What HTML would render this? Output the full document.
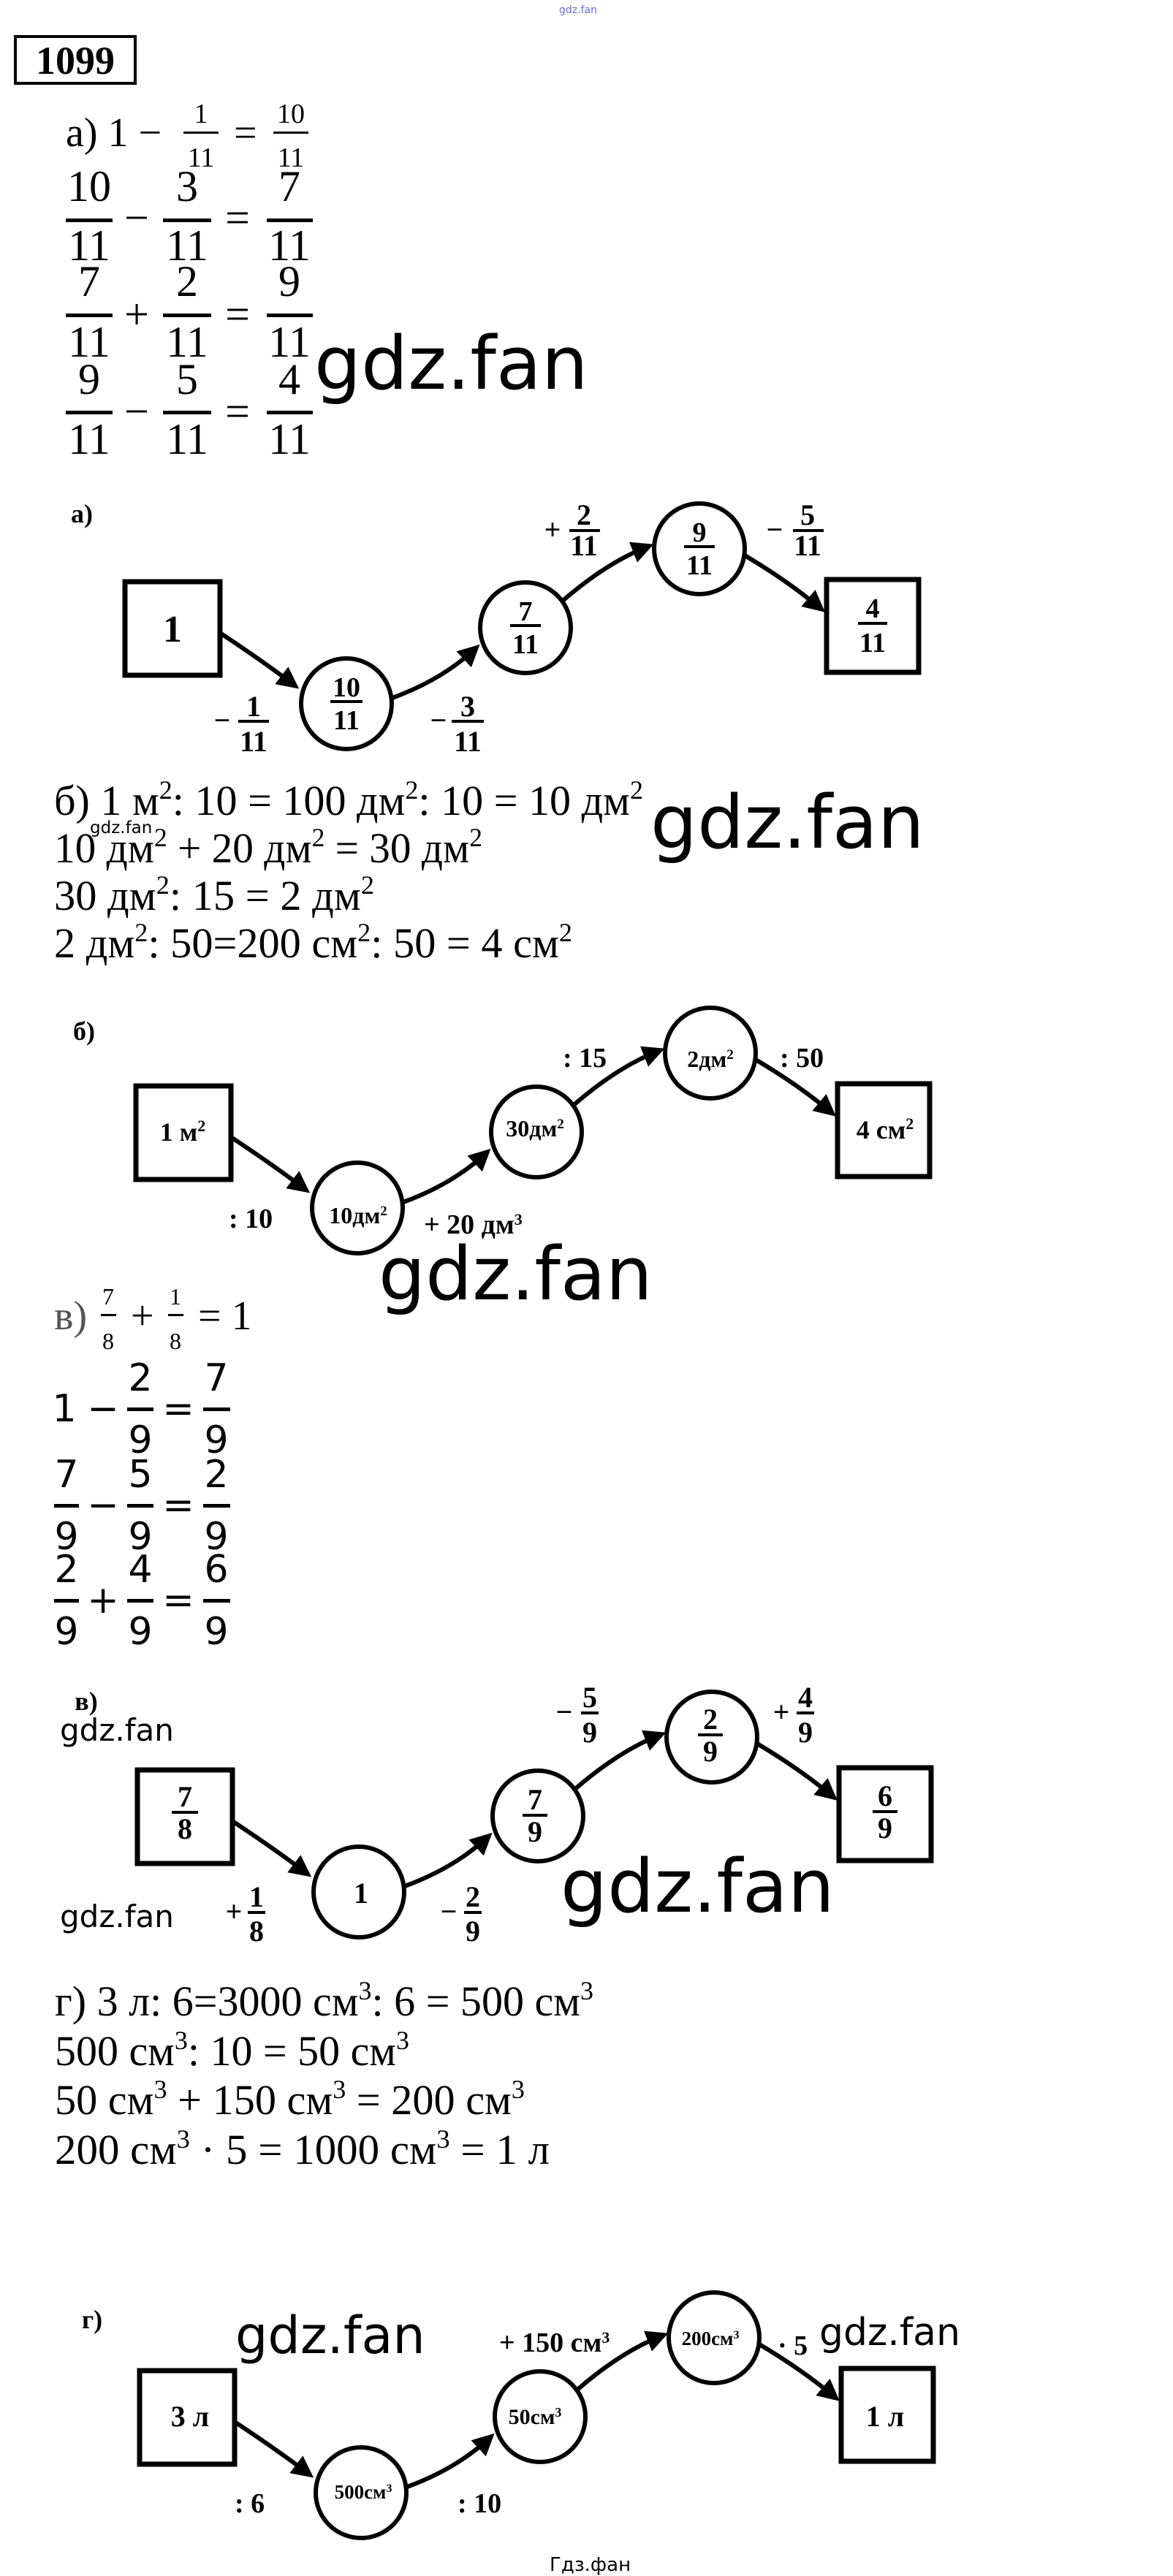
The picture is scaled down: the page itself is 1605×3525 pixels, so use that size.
<!DOCTYPE html>
<html><head><meta charset="utf-8"><style>
html,body{margin:0;padding:0;background:#fff;}
svg{display:block;}
.s{font-family:"Liberation Serif","DejaVu Serif",serif;}
.d{font-family:"DejaVu Sans","Liberation Sans",sans-serif;}
.b{font-family:"Liberation Serif",serif;font-weight:bold;}
</style></head><body>
<svg width="1605" height="3525" viewBox="0 0 1605 3525" xmlns="http://www.w3.org/2000/svg">
<defs>
<marker id="ah" markerWidth="5" markerHeight="5" refX="3.5" refY="2.5" orient="auto" markerUnits="strokeWidth">
<path d="M0,0 L5,2.5 L0,5 z" fill="#000"/></marker>
<g id="shp" fill="none" stroke="#000">
<rect x="171" y="796" width="130" height="128" stroke-width="7"/>
<circle cx="474" cy="963" r="62" stroke-width="6"/>
<circle cx="719" cy="859" r="62" stroke-width="6"/>
<circle cx="957" cy="751" r="62" stroke-width="6"/>
<rect x="1131" y="793" width="126" height="127" stroke-width="7"/>
<path d="M301,866 Q360,905 402,937" stroke-width="6" marker-end="url(#ah)"/>
<path d="M537,955 Q605,930 650,888" stroke-width="6" marker-end="url(#ah)"/>
<path d="M770,822 Q830,770 886,748" stroke-width="6" marker-end="url(#ah)"/>
<path d="M1019,760 Q1078,795 1122,832" stroke-width="6" marker-end="url(#ah)"/>
</g>
</defs>

<text x="765" y="18" class="d" font-size="14" fill="#6a6adf">gdz.fan</text>

<rect x="21" y="50" width="164" height="64" fill="none" stroke="#000" stroke-width="4"/>
<text x="103" y="101" class="b" font-size="54" text-anchor="middle">1099</text>

<g class="s" fill="#000">
<text x="90" y="200" font-size="56">а) 1 −</text>
<text x="275" y="168" font-size="38" text-anchor="middle">1</text>
<rect x="251" y="180" width="48" height="3"/>
<text x="275" y="228" font-size="38" text-anchor="middle">11</text>
<text x="320" y="200" font-size="56">=</text>
<text x="398" y="168" font-size="38" text-anchor="middle">10</text>
<rect x="374" y="180" width="48" height="3"/>
<text x="398" y="228" font-size="38" text-anchor="middle">11</text>
</g>
<g class="s" font-size="60" text-anchor="middle">
<text x="122" y="275">10</text><rect x="90" y="299" width="64" height="5"/><text x="122" y="356">11</text>
<text x="187" y="318">−</text>
<text x="256" y="275">3</text><rect x="223" y="299" width="66" height="5"/><text x="256" y="356">11</text>
<text x="325" y="318">=</text>
<text x="396" y="275">7</text><rect x="365" y="299" width="63" height="5"/><text x="396" y="356">11</text>

<text x="122" y="405">7</text><rect x="90" y="429" width="64" height="5"/><text x="122" y="488">11</text>
<text x="187" y="450">+</text>
<text x="256" y="405">2</text><rect x="223" y="429" width="66" height="5"/><text x="256" y="488">11</text>
<text x="325" y="450">=</text>
<text x="396" y="405">9</text><rect x="365" y="429" width="63" height="5"/><text x="396" y="488">11</text>

<text x="122" y="539">9</text><rect x="90" y="562" width="64" height="5"/><text x="122" y="621">11</text>
<text x="187" y="583">−</text>
<text x="256" y="539">5</text><rect x="223" y="562" width="66" height="5"/><text x="256" y="621">11</text>
<text x="325" y="583">=</text>
<text x="396" y="539">4</text><rect x="365" y="562" width="63" height="5"/><text x="396" y="621">11</text>
</g>
<text x="430" y="532" class="d" font-size="101">gdz.fan</text>

<g>
<use href="#shp"/>
<g class="b" text-anchor="middle">
<text x="112" y="715" font-size="36">а)</text>
<text x="236" y="878" font-size="52">1</text>
<text x="474" y="953" font-size="38">10</text><rect x="452" y="958" width="44" height="4"/><text x="474" y="998" font-size="38">11</text>
<text x="719" y="849" font-size="38">7</text><rect x="698" y="854" width="42" height="4"/><text x="719" y="894" font-size="38">11</text>
<text x="957" y="741" font-size="38">9</text><rect x="936" y="746" width="42" height="4"/><text x="957" y="786" font-size="38">11</text>
<text x="1194" y="845" font-size="38">4</text><rect x="1174" y="851" width="40" height="4"/><text x="1194" y="892" font-size="38">11</text>
<text x="304" y="999" font-size="40">−</text>
<text x="347" y="980" font-size="40">1</text><rect x="326" y="985" width="42" height="4"/><text x="347" y="1028" font-size="40">11</text>
<text x="600" y="999" font-size="40">−</text>
<text x="640" y="980" font-size="40">3</text><rect x="618" y="985" width="44" height="4"/><text x="640" y="1028" font-size="40">11</text>
<text x="756" y="738" font-size="40">+</text>
<text x="799" y="718" font-size="40">2</text><rect x="779" y="724" width="42" height="4"/><text x="799" y="760" font-size="40">11</text>
<text x="1060" y="738" font-size="40">−</text>
<text x="1105" y="718" font-size="40">5</text><rect x="1085" y="724" width="42" height="4"/><text x="1105" y="760" font-size="40">11</text>
</g>
</g>

<g class="s" font-size="58">
<text x="74" y="1115" textLength="806" lengthAdjust="spacingAndGlyphs">б) 1 м<tspan dy="-22" font-size="36">2</tspan><tspan dy="22">: 10 = 100 дм</tspan><tspan dy="-22" font-size="36">2</tspan><tspan dy="22">: 10 = 10 дм</tspan><tspan dy="-22" font-size="36">2</tspan></text>
<text x="74" y="1180" textLength="586" lengthAdjust="spacingAndGlyphs">10 дм<tspan dy="-22" font-size="36">2</tspan><tspan dy="22"> + 20 дм</tspan><tspan dy="-22" font-size="36">2</tspan><tspan dy="22"> = 30 дм</tspan><tspan dy="-22" font-size="36">2</tspan></text>
<text x="74" y="1245" textLength="438" lengthAdjust="spacingAndGlyphs">30 дм<tspan dy="-22" font-size="36">2</tspan><tspan dy="22">: 15 = 2 дм</tspan><tspan dy="-22" font-size="36">2</tspan></text>
<text x="74" y="1310" textLength="709" lengthAdjust="spacingAndGlyphs">2 дм<tspan dy="-22" font-size="36">2</tspan><tspan dy="22">: 50=200 см</tspan><tspan dy="-22" font-size="36">2</tspan><tspan dy="22">: 50 = 4 см</tspan><tspan dy="-22" font-size="36">2</tspan></text>
</g>
<text x="123" y="1140" class="d" font-size="23">gdz.fan</text>
<text x="890" y="1160" class="d" font-size="101">gdz.fan</text>

<g transform="translate(15,690)">
<use href="#shp"/>
<g class="b" text-anchor="middle">
<text x="100" y="733" font-size="36">б)</text>
<text x="235" y="871" font-size="36">1 м<tspan dy="-13" font-size="22">2</tspan></text>
<text x="475" y="984" font-size="32">10дм<tspan dy="-11" font-size="19">2</tspan></text>
<text x="717" y="865" font-size="32">30дм<tspan dy="-11" font-size="19">2</tspan></text>
<text x="957" y="770" font-size="32">2дм<tspan dy="-11" font-size="19">2</tspan></text>
<text x="1196" y="868" font-size="36">4 см<tspan dy="-13" font-size="22">2</tspan></text>
</g>
<g class="b" font-size="38">
<text x="298" y="990">: 10</text>
<text x="565" y="998">+ 20 дм<tspan dy="-12" font-size="22">3</tspan></text>
<text x="755" y="770">: 15</text>
<text x="1052" y="770">: 50</text>
</g>
</g>
<text x="518" y="1778" class="d" font-size="101">gdz.fan</text>

<g class="s" fill="#000">
<text x="74" y="1819" font-size="56" fill="#555">в)</text>
<text x="148" y="1785" font-size="32" text-anchor="middle">7</text><rect x="138" y="1798" width="21" height="3"/><text x="148" y="1846" font-size="32" text-anchor="middle">8</text>
<text x="179" y="1819" font-size="56">+</text>
<text x="240" y="1785" font-size="32" text-anchor="middle">1</text><rect x="230" y="1798" width="21" height="3"/><text x="240" y="1846" font-size="32" text-anchor="middle">8</text>
<text x="271" y="1819" font-size="56">= 1</text>
</g>
<g class="d" font-size="52" text-anchor="middle">
<text x="88" y="1945">1</text>
<text x="141" y="1945">−</text>
<text x="192" y="1903">2</text><rect x="174" y="1926" width="36" height="5"/><text x="192" y="1988">9</text>
<text x="244" y="1945">=</text>
<text x="296" y="1903">7</text><rect x="278" y="1926" width="37" height="5"/><text x="296" y="1988">9</text>

<text x="91" y="2035">7</text><rect x="74" y="2058" width="34" height="5"/><text x="91" y="2120">9</text>
<text x="141" y="2077">−</text>
<text x="192" y="2035">5</text><rect x="174" y="2058" width="36" height="5"/><text x="192" y="2120">9</text>
<text x="244" y="2077">=</text>
<text x="296" y="2035">2</text><rect x="278" y="2058" width="37" height="5"/><text x="296" y="2120">9</text>

<text x="91" y="2165">2</text><rect x="74" y="2188" width="34" height="5"/><text x="91" y="2250">9</text>
<text x="141" y="2207">+</text>
<text x="192" y="2165">4</text><rect x="174" y="2188" width="36" height="5"/><text x="192" y="2250">9</text>
<text x="244" y="2207">=</text>
<text x="296" y="2165">6</text><rect x="278" y="2188" width="37" height="5"/><text x="296" y="2250">9</text>
</g>

<text x="82" y="2382" class="d" font-size="42">gdz.fan</text>
<text x="82" y="2637" class="d" font-size="42">gdz.fan</text>
<g transform="translate(17,1626)">
<use href="#shp"/>
<g class="b" text-anchor="middle">
<text x="101" y="714" font-size="36">в)</text>
<text x="236" y="846" font-size="40">7</text><rect x="218" y="852" width="36" height="4"/><text x="236" y="890" font-size="40">8</text>
<text x="477" y="978" font-size="40">1</text>
<text x="715" y="850" font-size="40">7</text><rect x="698" y="856" width="34" height="4"/><text x="715" y="894" font-size="40">9</text>
<text x="955" y="740" font-size="40">2</text><rect x="938" y="746" width="34" height="4"/><text x="955" y="784" font-size="40">9</text>
<text x="1194" y="845" font-size="40">6</text><rect x="1177" y="851" width="34" height="4"/><text x="1194" y="889" font-size="40">9</text>
<text x="303" y="1003" font-size="40">+</text>
<text x="334" y="983" font-size="40">1</text><rect x="322" y="989" width="24" height="4"/><text x="334" y="1030" font-size="40">8</text>
<text x="597" y="1003" font-size="40">−</text>
<text x="630" y="983" font-size="40">2</text><rect x="618" y="989" width="24" height="4"/><text x="630" y="1030" font-size="40">9</text>
<text x="755" y="730" font-size="40">−</text>
<text x="790" y="710" font-size="40">5</text><rect x="778" y="716" width="24" height="4"/><text x="790" y="758" font-size="40">9</text>
<text x="1052" y="730" font-size="40">+</text>
<text x="1085" y="710" font-size="40">4</text><rect x="1073" y="716" width="24" height="4"/><text x="1085" y="758" font-size="40">9</text>
</g>
</g>
<text x="767" y="2616" class="d" font-size="101">gdz.fan</text>

<g class="s" font-size="58">
<text x="75" y="2758" textLength="737" lengthAdjust="spacingAndGlyphs">г) 3 л: 6=3000 см<tspan dy="-22" font-size="36">3</tspan><tspan dy="22">: 6 = 500 см</tspan><tspan dy="-22" font-size="36">3</tspan></text>
<text x="75" y="2826" textLength="485" lengthAdjust="spacingAndGlyphs">500 см<tspan dy="-22" font-size="36">3</tspan><tspan dy="22">: 10 = 50 см</tspan><tspan dy="-22" font-size="36">3</tspan></text>
<text x="75" y="2893" textLength="643" lengthAdjust="spacingAndGlyphs">50 см<tspan dy="-22" font-size="36">3</tspan><tspan dy="22"> + 150 см</tspan><tspan dy="-22" font-size="36">3</tspan><tspan dy="22"> = 200 см</tspan><tspan dy="-22" font-size="36">3</tspan></text>
<text x="75" y="2961" textLength="677" lengthAdjust="spacingAndGlyphs">200 см<tspan dy="-22" font-size="36">3</tspan><tspan dy="22"> ·  5 = 1000 см</tspan><tspan dy="-22" font-size="36">3</tspan><tspan dy="22"> = 1 л</tspan></text>
</g>

<g transform="translate(20,2448)">
<use href="#shp"/>
<g class="b" text-anchor="middle">
<text x="106" y="738" font-size="36">г)</text>
<text x="240" y="872" font-size="40">3 л</text>
<text x="477" y="971" font-size="27">500см<tspan dy="-9" font-size="16">3</tspan></text>
<text x="712" y="869" font-size="30">50см<tspan dy="-10" font-size="18">3</tspan></text>
<text x="952" y="761" font-size="27">200см<tspan dy="-9" font-size="16">3</tspan></text>
<text x="1191" y="872" font-size="40">1 л</text>
</g>
<g class="b" font-size="38">
<text x="301" y="990">: 6</text>
<text x="606" y="990">: 10</text>
<text x="663" y="770">+ 150 см<tspan dy="-12" font-size="22">3</tspan></text>
<text x="1044" y="774">· 5</text>
</g>
</g>
<text x="322" y="3220" class="d" font-size="70">gdz.fan</text>
<text x="1121" y="3209" class="d" font-size="52">gdz.fan</text>
<text x="752" y="3518" class="d" font-size="26">Гдз.фан</text>
</svg>
</body></html>
